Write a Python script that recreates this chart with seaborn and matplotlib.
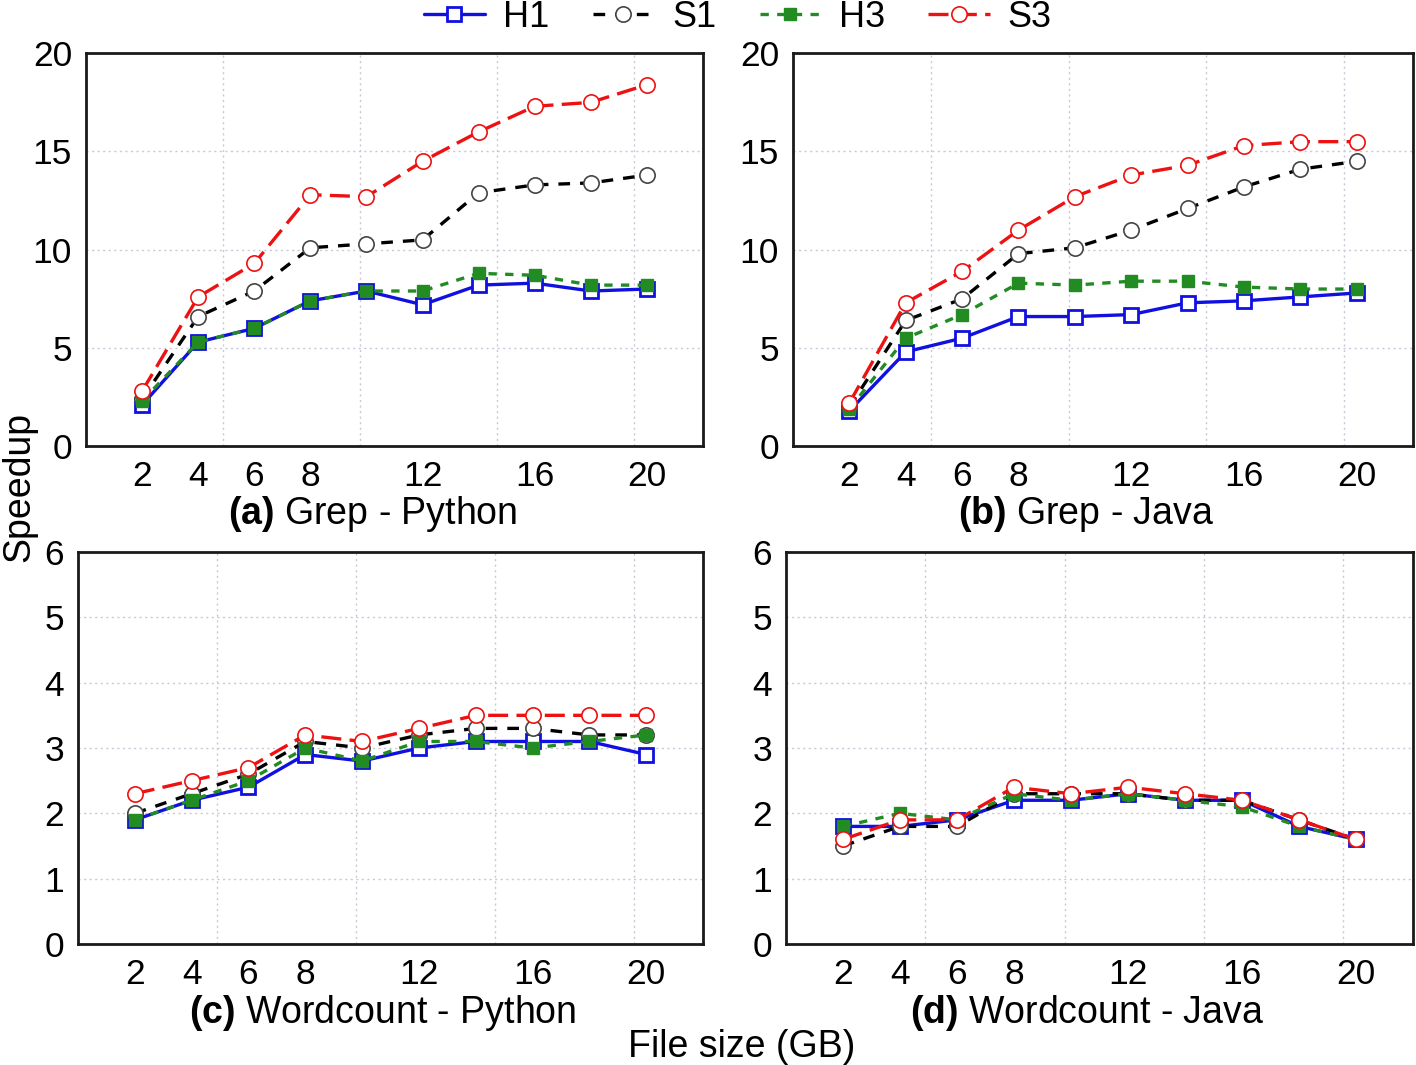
import numpy as np
import pandas as pd
import seaborn as sns
import matplotlib.pyplot as plt

sizes = [2, 4, 6, 8, 10, 12, 14, 16, 18, 20]
tick_labels = ['2', '4', '6', '8', '', '12', '', '16', '', '20']

# (a) Grep - Python
grep_py_h1 = [2.1, 5.3, 6.0, 7.4, 7.9, 7.2, 8.2, 8.3, 7.9, 8.0]
grep_py_s1 = [2.4, 6.6, 7.9, 10.1, 10.3, 10.5, 12.9, 13.3, 13.4, 13.8]
grep_py_h3 = [2.3, 5.3, 6.0, 7.4, 7.9, 7.9, 8.8, 8.7, 8.2, 8.2]
grep_py_s3 = [2.8, 7.6, 9.3, 12.8, 12.7, 14.5, 16.0, 17.3, 17.5, 18.4]

# (b) Grep - Java
grep_java_h1 = [1.8, 4.8, 5.5, 6.6, 6.6, 6.7, 7.3, 7.4, 7.6, 7.8]
grep_java_s1 = [2.0, 6.4, 7.5, 9.8, 10.1, 11.0, 12.1, 13.2, 14.1, 14.5]
grep_java_h3 = [1.9, 5.5, 6.7, 8.3, 8.2, 8.4, 8.4, 8.1, 8.0, 8.0]
grep_java_s3 = [2.2, 7.3, 8.9, 11.0, 12.7, 13.8, 14.3, 15.3, 15.5, 15.5]

# (c) Wordcount - Python
wc_py_h1 = [1.9, 2.2, 2.4, 2.9, 2.8, 3.0, 3.1, 3.1, 3.1, 2.9]
wc_py_s1 = [2.0, 2.3, 2.6, 3.1, 3.0, 3.2, 3.3, 3.3, 3.2, 3.2]
wc_py_h3 = [1.9, 2.2, 2.5, 3.0, 2.8, 3.1, 3.1, 3.0, 3.1, 3.2]
wc_py_s3 = [2.3, 2.5, 2.7, 3.2, 3.1, 3.3, 3.5, 3.5, 3.5, 3.5]

# (d) Wordcount - Java
wc_java_h1 = [1.8, 1.8, 1.9, 2.2, 2.2, 2.3, 2.2, 2.2, 1.8, 1.6]
wc_java_s1 = [1.5, 1.8, 1.8, 2.3, 2.3, 2.3, 2.2, 2.2, 1.9, 1.6]
wc_java_h3 = [1.8, 2.0, 1.9, 2.3, 2.2, 2.3, 2.2, 2.1, 1.8, 1.6]
wc_java_s3 = [1.6, 1.9, 1.9, 2.4, 2.3, 2.4, 2.3, 2.2, 1.9, 1.6]

panels = [
    ('a', 'Grep - Python', [grep_py_h1, grep_py_s1, grep_py_h3, grep_py_s3], [0, 5, 10, 15, 20]),
    ('b', 'Grep - Java', [grep_java_h1, grep_java_s1, grep_java_h3, grep_java_s3], [0, 5, 10, 15, 20]),
    ('c', 'Wordcount - Python', [wc_py_h1, wc_py_s1, wc_py_h3, wc_py_s3], [0, 1, 2, 3, 4, 5, 6]),
    ('d', 'Wordcount - Java', [wc_java_h1, wc_java_s1, wc_java_h3, wc_java_s3], [0, 1, 2, 3, 4, 5, 6]),
]

series = ['H1', 'S1', 'H3', 'S3']
styles = {
    'H1': dict(color='#1010e0', marker='s', linestyle='-', markerfacecolor='white',
               markeredgecolor='#1010e0', markersize=10, markeredgewidth=2),
    'S1': dict(color='black', marker='o', linestyle=(0, (3.5, 3)), markerfacecolor='white',
               markeredgecolor='#444444', markersize=11, markeredgewidth=1.2),
    'H3': dict(color='#228b22', marker='s', linestyle=(0, (2.5, 2.5)), markerfacecolor='#228b22',
               markeredgecolor='#228b22', markersize=9, markeredgewidth=1),
    'S3': dict(color='#ee1111', marker='o', linestyle=(0, (6, 2.5)), markerfacecolor='white',
               markeredgecolor='#ee1111', markersize=11, markeredgewidth=1.2),
}

rects = [
    [0.0607, 0.581, 0.4358, 0.369],
    [0.560, 0.581, 0.438, 0.369],
    [0.0551, 0.1136, 0.4414, 0.3681],
    [0.555, 0.1136, 0.443, 0.3681],
]
sub_x = [0.263, 0.767, 0.27, 0.768]
sub_y = [0.517, 0.517, 0.049, 0.049]

sns.set_style('white')
plt.rcParams['font.family'] = ['Liberation Sans', 'DejaVu Sans']
plt.rcParams['text.color'] = 'black'
plt.rcParams['xtick.color'] = 'black'
plt.rcParams['ytick.color'] = 'black'
plt.rcParams['mathtext.fontset'] = 'custom'
plt.rcParams['mathtext.rm'] = 'Liberation Sans'
plt.rcParams['mathtext.bf'] = 'Liberation Sans:bold'

fig = plt.figure(figsize=(14.16, 10.65), dpi=100)

grid_x = [22 / 4.5 * k for k in range(1, 5)]

for i, (tag, title, values, yticks) in enumerate(panels):
    ax = fig.add_axes(rects[i])
    for name, vals in zip(series, values):
        sns.lineplot(x=sizes, y=vals, ax=ax, label=name, linewidth=2.4, **styles[name])
    ax.set_xlim(0, 22)
    ax.set_ylim(yticks[0], yticks[-1])
    ax.set_xticks(sizes)
    ax.set_xticklabels(tick_labels)
    ax.set_yticks(yticks)
    ax.tick_params(axis='both', direction='out', length=7, width=1.5, labelsize=25.5,
                   pad=3, color='#222222', labelcolor='black')
    for y in yticks[1:-1]:
        ax.axhline(y, color='#c8c8d8', linestyle=(0, (1.5, 2.5)), linewidth=1, zorder=0)
    for x in grid_x:
        ax.axvline(x, color='#c8c8d8', linestyle=(0, (1.5, 2.5)), linewidth=1, zorder=0)
    for sp in ax.spines.values():
        sp.set_linewidth(2)
        sp.set_color('#1a1a1a')
    ax.set_xlabel('')
    ax.set_ylabel('')
    if i == 0:
        handles, labels = ax.get_legend_handles_labels()
    ax.get_legend().remove()
    fig.text(sub_x[i], sub_y[i], r'$\mathbf{(' + tag + r')}$ ' + title, ha='center', va='center',
             fontsize=27)

fig.legend(handles, labels, loc='center', bbox_to_anchor=(0.521, 0.984), ncol=4, frameon=False,
           fontsize=26, handlelength=1.7, columnspacing=1.2, handletextpad=0.5, numpoints=1,
           borderaxespad=0, borderpad=0)
fig.text(0.524, 0.017, 'File size (GB)', ha='center', va='center', fontsize=27)
fig.text(0.014, 0.543, 'Speedup', ha='center', va='center', rotation=90, fontsize=27)

fig.savefig('out.png', dpi=100)
